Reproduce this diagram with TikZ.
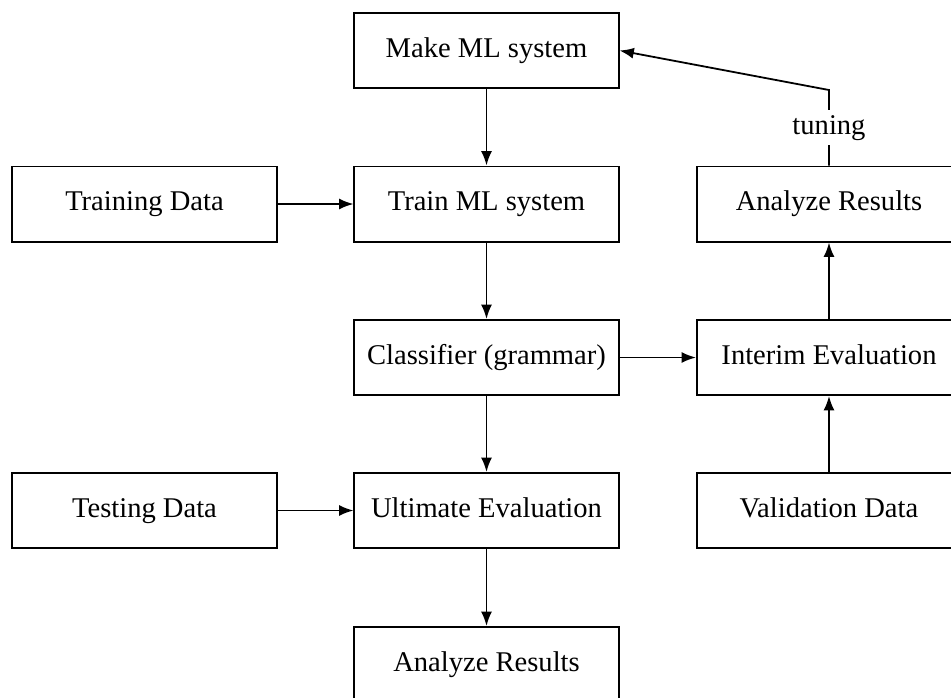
\documentclass[tikz,border=0pt]{standalone}
\usepackage{fontspec}
\setmainfont{Liberation Serif}
\usetikzlibrary{arrows.meta}
\begin{document}
\begin{tikzpicture}[x=0.42pt,y=-0.42pt,
  box/.style={draw,line width=0.75pt,minimum width=111pt,minimum height=31.6pt,inner sep=2pt,text height=8.2pt,text depth=2.6pt,font=\fontsize{12}{14}\selectfont},
  arr/.style={line width=0.75pt,-{Latex[length=6pt,width=4.6pt]}},
  lbl/.style={fill=white,inner sep=2pt,font=\fontsize{12}{14}\selectfont}]
\useasboundingbox (0,0) rectangle (951,697);
\clip (0,0) rectangle (951,697);
\node[box] (make) at (486.5,50.5) {Make ML system};
\node[box] (traindata) at (144.5,204) {Training Data};
\node[box] (train) at (486.5,204) {Train ML system};
\node[box] (ar2) at (829,204) {Analyze Results};
\node[box] (class) at (486.5,357.5) {Classifier (grammar)};
\node[box] (interim) at (829,357.5) {Interim Evaluation};
\node[box] (testdata) at (144.5,510.5) {Testing Data};
\node[box] (ult) at (486.5,510.5) {Ultimate Evaluation};
\node[box] (valid) at (829,510.5) {Validation Data};
\node[box] (ar1) at (486.5,664.5) {Analyze Results};
\coordinate (bend) at (829,90);
\draw[arr] (make) -- (train);
\draw[arr] (traindata) -- (train);
\draw[arr] (train) -- (class);
\draw[arr] (class) -- (interim);
\draw[arr] (class) -- (ult);
\draw[arr] (testdata) -- (ult);
\draw[arr] (ult) -- (ar1);
\draw[arr] (valid) -- (interim);
\draw[arr] (interim) -- (ar2);
\draw[arr] (ar2.north) -- node[lbl] {tuning} (bend) -- (make.east);
\end{tikzpicture}
\end{document}
